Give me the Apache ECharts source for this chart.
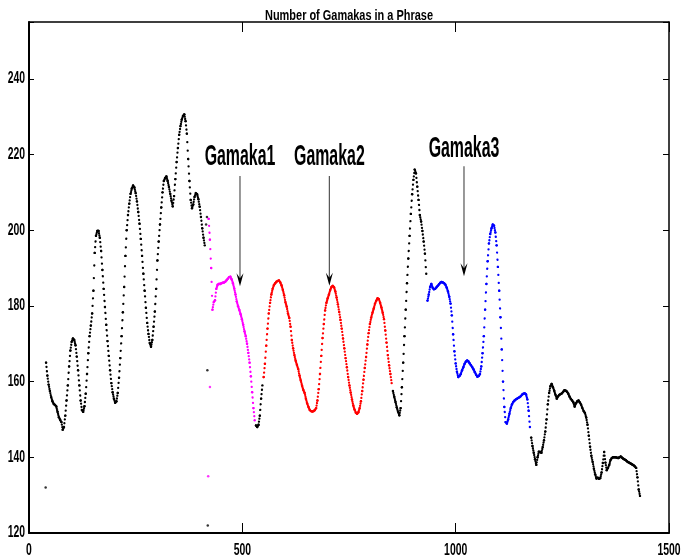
<!DOCTYPE html>
<html><head><meta charset="utf-8">
<script src="https://cdn.jsdelivr.net/npm/echarts@6/dist/echarts.min.js"></script>
<style>html,body{margin:0;padding:0;background:#fff}#c{width:683px;height:558px}</style>
</head><body><div id="c"></div>
<script>
// ---- data (x = frame position, y = pitch) ----
const FRAME_STEP = 3;
const segmentStarts = [40, 421, 532, 550, 853, 934, 1177];
const segmentKinds  = ['other', 'gamaka1', 'other', 'gamaka2', 'other', 'gamaka3', 'other'];

const seg1Other = [165.0,161.6,159.2,157.5,155.9,154.8,154.1,153.8,153.4,152.0,150.6,149.9,149.3,147.3,148.0,151.0,155.0,159.0,164.0,168.2,170.5,171.4,171.0,169.6,166.6,163.0,159.0,155.0,152.5,152.0,153.5,156.8,162.0,167.5,172.0,174.8,178.0,184.0,194.0,198.5,199.8,199.8,198.0,194.5,189.5,184.5,179.7,175.0,170.7,166.8,163.0,159.6,157.2,155.5,154.4,154.8,157.0,161.0,166.2,172.0,178.3,185.0,193.2,200.0,204.0,207.0,209.6,211.0,211.8,211.3,209.8,207.6,204.8,201.7,197.7,193.2,188.5,184.0,179.5,175.5,172.6,170.2,169.2,171.0,174.5,178.5,184.5,192.0,197.0,201.5,206.0,210.0,213.0,213.8,214.2,213.0,211.4,209.6,207.8,206.3,209.0,213.5,218.0,221.7,225.2,227.5,229.2,230.2,230.6,228.8,225.5,218.8,213.0,208.0,205.8,206.8,208.8,209.8,209.5,208.2,206.2,203.5,200.5,198.0,196.0];
const seg2Gamaka1 = [203.0,197.5,190.0,179.0,181.0,181.5,184.5,185.6,185.8,185.8,186.0,186.1,186.2,186.4,186.8,187.2,187.6,187.7,187.0,186.0,184.6,183.0,181.2,179.9,178.9,177.8,176.5,175.0,173.3,172.0,170.0,167.6,165.0,161.4,157.2,153.0,149.8];
const seg3Other = [148.4,148.0,148.6,151.0,155.5,159.0];
const seg4Gamaka2 = [161.2,164.7,169.5,174.0,178.0,180.8,183.0,184.5,185.5,186.0,186.4,186.6,186.7,186.2,185.4,184.2,182.8,181.0,179.8,178.0,176.8,174.5,171.0,168.8,167.0,165.5,164.4,163.3,161.6,160.3,158.9,157.8,157.0,155.5,154.2,153.3,152.5,152.2,152.1,152.2,152.5,153.0,155.0,158.0,162.0,166.8,171.5,175.2,178.8,180.8,182.0,183.0,184.2,185.0,185.3,184.9,183.8,182.2,180.4,178.4,176.3,174.0,171.4,168.8,166.2,163.8,161.2,159.0,157.1,155.3,153.7,152.6,151.8,151.5,151.9,153.0,154.8,157.5,160.5,163.6,166.5,169.8,172.8,175.2,176.9,178.2,179.3,180.6,181.4,182.0,181.8,180.8,179.6,178.2,176.5,173.5,170.3,167.0,164.3,162.0,159.6];
const seg5Other = [157.5,156.0,154.6,153.2,152.0,151.1,153.0,158.5,165.0,172.0,179.0,186.0,192.5,198.5,204.3,209.5,213.3,216.0,215.0,211.5,208.0,204.0,202.3,199.8,197.0,193.8,188.5];
const seg6Gamaka3 = [181.4,183.0,185.0,185.8,184.8,184.4,184.5,184.9,185.3,185.7,186.1,186.3,186.2,186.0,185.6,184.8,183.8,182.4,180.6,177.5,172.5,168.0,164.8,162.6,161.2,161.5,162.0,163.0,163.8,164.7,165.3,165.6,165.3,164.8,164.3,163.8,163.2,162.5,161.8,161.3,161.5,162.0,164.0,167.5,172.0,179.0,185.8,191.8,196.5,199.0,200.5,201.5,201.2,199.4,196.0,190.3,184.0,177.0,168.5,160.0,153.3,149.3,148.9,150.0,151.5,153.0,154.0,154.6,155.0,155.3,155.5,155.7,155.9,156.2,156.6,156.8,156.9,156.6,155.3,152.3,148.0];
const seg7Other = [145.2,143.0,141.2,139.5,138.0,140.0,141.5,141.4,141.2,142.7,144.5,146.8,150.0,154.0,157.0,158.8,159.4,158.5,157.6,156.5,155.5,156.1,156.5,156.7,156.9,157.3,157.7,157.6,157.3,156.8,156.0,155.4,155.0,154.5,153.4,154.3,154.8,155.0,154.5,153.9,153.0,152.2,151.7,150.5,148.6,145.7,142.8,140.4,138.8,137.0,135.5,134.4,134.6,134.3,134.5,136.0,138.5,141.4,138.6,136.6,137.2,138.0,139.3,139.8,140.0,140.0,140.0,139.9,139.8,140.0,140.2,139.9,139.6,139.4,139.2,138.9,138.7,138.5,138.3,138.1,137.9,137.6,137.2,134.7,131.5,129.8];

const outliersOther   = [[39,132],[415,201.5],[417,203.5],[418,163],[419,122]];
const outliersGamaka1 = [[424,158.6],[420,135]];

const xTickValues = [0, 500, 1000, 1500];
const yTickValues = [120, 140, 160, 180, 200, 220, 240];

const gamakaLabels   = ['Gamaka1', 'Gamaka2', 'Gamaka3'];
const gamakaX        = [494.5, 704, 1019.5];
const gamakaLabelY   = [219.4, 219.4, 221.4];
const gamakaArrowTop = [214.3, 214.3, 216.9];
const gamakaArrowTip = [185.2, 185.3, 187.8];

const titleText = 'Number of Gamakas in a Phrase';

// ---- chart ----
const segments = [seg1Other, seg2Gamaka1, seg3Other, seg4Gamaka2, seg5Other, seg6Gamaka3, seg7Other];
const kindColor = {other: '#000000', gamaka1: '#ff00ff', gamaka2: '#ff0000', gamaka3: '#0000ff'};
const FONT = "'Liberation Sans', Arial, Helvetica, sans-serif";
const DOTS_PER_STEP = 3; // the original trace shows about 3 samples per read step

const series = [];
segments.forEach((vals, s) => {
  const col = kindColor[segmentKinds[s]];
  const pts = vals.map((v, i) => [segmentStarts[s] + i * FRAME_STEP, v]);
  const pairs = [];
  for (let i = 0; i + 1 < pts.length; i++) pairs.push([pts[i][0], pts[i][1], pts[i + 1][0], pts[i + 1][1]]);
  // dotted trace: each step between read points is drawn as a short dotted stroke
  series.push({
    type: 'custom', silent: true, animation: false, z: 2,
    encode: {x: [0, 2], y: [1, 3]},
    data: pairs,
    renderItem: function (params, api) {
      const a = api.coord([api.value(0), api.value(1)]);
      const b = api.coord([api.value(2), api.value(3)]);
      const len = Math.hypot(b[0] - a[0], b[1] - a[1]);
      const period = Math.max(len / DOTS_PER_STEP, 0.3);
      return {
        type: 'line',
        shape: {x1: a[0], y1: a[1], x2: b[0], y2: b[1]},
        style: {stroke: col, lineWidth: 2.3, lineDash: [0.01, period], lineCap: 'round', fill: null}
      };
    }
  });
  series.push({
    type: 'scatter', symbol: 'circle', symbolSize: 2.4, silent: true, animation: false,
    itemStyle: {color: col, opacity: 1}, data: pts, z: 3
  });
});
series.push({type: 'scatter', symbolSize: 2.5, silent: true, itemStyle: {color: kindColor.other}, animation: false, data: outliersOther});
series.push({type: 'scatter', symbolSize: 2.5, silent: true, itemStyle: {color: kindColor.gamaka1}, animation: false, data: outliersGamaka1});

const xMin = xTickValues[0], xMax = xTickValues[xTickValues.length - 1];
const xInt = xTickValues[1] - xTickValues[0];
const yMin = yTickValues[0], yInt = yTickValues[1] - yTickValues[0];
const yMax = 255;

const chart = echarts.init(document.getElementById('c'), null, {renderer: 'canvas'});
chart.setOption({
  animation: false,
  backgroundColor: '#fff',
  grid: {left: 29, right: 14, top: 22, bottom: 25},
  xAxis: [
    {type: 'value', position: 'bottom', min: xMin, max: xMax, interval: xInt,
     splitLine: {show: false},
     axisLine: {show: true, onZero: false, lineStyle: {color: '#000', width: 2}},
     axisTick: {show: true, inside: true, length: 10, lineStyle: {color: '#000', width: 1}},
     axisLabel: {show: false}},
    {type: 'value', position: 'top', min: xMin, max: xMax, interval: xInt,
     splitLine: {show: false},
     axisLine: {show: true, onZero: false, lineStyle: {color: '#000', width: 1.5}},
     axisTick: {show: true, inside: true, length: 10, lineStyle: {color: '#000', width: 1}},
     axisLabel: {show: false}}
  ],
  yAxis: [
    {type: 'value', position: 'left', min: yMin, max: yMax, interval: yInt,
     splitLine: {show: false},
     axisLine: {show: true, onZero: false, lineStyle: {color: '#000', width: 2}},
     axisTick: {show: true, inside: true, length: 5, lineStyle: {color: '#000', width: 1}},
     axisLabel: {show: false}},
    {type: 'value', position: 'right', min: yMin, max: yMax, interval: yInt,
     splitLine: {show: false},
     axisLine: {show: true, onZero: false, lineStyle: {color: '#000', width: 1.5}},
     axisTick: {show: true, inside: true, length: 6, lineStyle: {color: '#000', width: 1}},
     axisLabel: {show: false}}
  ],
  series: series
});

// condensed texts positioned through the chart's own coordinate system
const toPx = (x, y) => chart.convertToPixel({xAxisIndex: 0, yAxisIndex: 0}, [x, y]);
const condensedText = (text, x, y, font, sx, align) => ({
  type: 'text', x: x, y: y, scaleX: sx, silent: true, z: 10,
  style: {text: text, x: 0, y: 0, align: align, verticalAlign: 'middle',
          textAlign: align, textVerticalAlign: 'middle', font: font, fill: '#000'}
});
const graphics = [];
const TICK_FONT = "bold 16px " + FONT;
xTickValues.forEach(v => {
  const p = toPx(v, yMin);
  graphics.push(condensedText(String(v), p[0], p[1] + 18, TICK_FONT, 0.65, 'center'));
});
yTickValues.forEach(v => {
  const p = toPx(xMin, v);
  graphics.push(condensedText(String(v), p[0] - 4, p[1], TICK_FONT, 0.65, 'right'));
});
const gridCenter = (toPx(xMin, yMin)[0] + toPx(xMax, yMin)[0]) / 2;
graphics.push(condensedText(titleText, gridCenter, 16, "bold 15px " + FONT, 0.73, 'center'));

gamakaLabels.forEach((label, i) => {
  const pLabel = toPx(gamakaX[i], gamakaLabelY[i]);
  const pTop = toPx(gamakaX[i], gamakaArrowTop[i]);
  const pTip = toPx(gamakaX[i], gamakaArrowTip[i]);
  graphics.push(condensedText(label, pLabel[0], pLabel[1], "bold 30px " + FONT, 0.53, 'center'));
  graphics.push({
    type: 'line', silent: true, z: 10,
    shape: {x1: pTop[0], y1: pTop[1], x2: pTip[0], y2: pTip[1] - 6},
    style: {stroke: '#555', lineWidth: 1.2}
  });
  graphics.push({
    type: 'polygon', silent: true, z: 10,
    shape: {points: [[pTip[0], pTip[1]], [pTip[0] - 3.5, pTip[1] - 13], [pTip[0], pTip[1] - 8], [pTip[0] + 3.5, pTip[1] - 13]]},
    style: {fill: '#000'}
  });
});
chart.setOption({graphic: graphics});
</script>
</body></html>
